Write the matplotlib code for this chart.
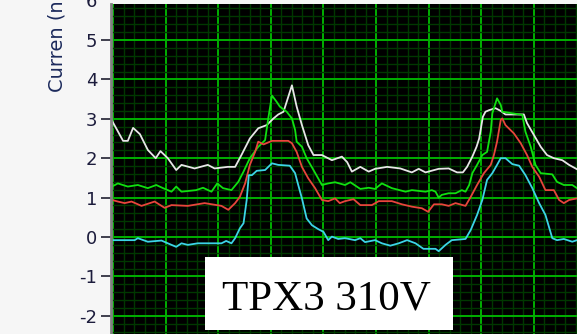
import numpy as np
import matplotlib
matplotlib.use("Agg")
import matplotlib.pyplot as plt
from matplotlib.patches import Rectangle
from matplotlib.ticker import MultipleLocator

# sample positions (time units, 10 per major division) and currents in nA
white_x = [-0.2, 1.9, 2.8, 3.8, 5.1, 6.6, 8.1, 9.0, 10.4, 12.0, 13.0, 15.5, 18.0, 19.3,
           21.8, 23.2, 24.4, 26.0, 27.6, 29.2, 30.5, 31.4, 32.4, 33.0, 34.0, 34.9, 35.9,
           37.1, 38.1, 39.7, 41.6, 43.5, 44.5, 45.4, 47.0, 48.6, 49.8, 52.1, 54.6, 56.8,
           58.1, 59.4, 61.9, 63.8, 65.4, 66.5, 67.3, 68.3, 69.1, 69.6, 70.3, 70.8, 71.5,
           72.7, 73.7, 74.6, 78.1, 78.7, 80.0, 81.3, 82.5, 83.8, 85.4, 86.7, 88.2]
white_y = [2.95, 2.44, 2.44, 2.77, 2.61, 2.21, 2.00, 2.18, 2.00, 1.70, 1.83, 1.74, 1.83, 1.74,
           1.78, 1.78, 2.08, 2.50, 2.76, 2.84, 3.01, 3.11, 3.18, 3.43, 3.85, 3.31, 2.84,
           2.33, 2.08, 2.08, 1.95, 2.04, 1.90, 1.66, 1.78, 1.66, 1.73, 1.78, 1.74, 1.64,
           1.73, 1.64, 1.73, 1.74, 1.64, 1.64, 1.78, 2.04, 2.29, 2.50, 3.05, 3.18, 3.22,
           3.27, 3.20, 3.11, 3.11, 2.89, 2.59, 2.29, 2.08, 2.00, 1.95, 1.83, 1.72]

green_x = [-0.2, 0.9, 2.8, 4.7, 6.6, 8.2, 9.5, 11.1, 12.0, 13.0, 15.8, 17.1, 18.7, 19.8,
           20.9, 22.5, 23.8, 24.8, 26.0, 27.6, 28.9, 29.5, 30.2, 31.1, 31.7, 33.0, 34.0,
           34.6, 34.9, 35.9, 36.8, 38.1, 39.7, 40.9, 42.2, 44.1, 45.1, 47.0, 48.6, 49.8,
           51.1, 53.0, 55.6, 56.8, 59.4, 60.6, 61.3, 61.9, 62.5, 63.8, 65.1, 66.3, 67.0,
           67.7, 68.3, 69.2, 70.2, 71.1, 71.8, 72.1, 73.0, 73.7, 74.0, 77.8, 78.4, 79.4,
           80.3, 81.3, 83.5, 84.4, 85.7, 87.3, 88.2]
green_y = [1.28, 1.36, 1.28, 1.32, 1.24, 1.32, 1.24, 1.15, 1.28, 1.15, 1.19, 1.25, 1.15, 1.36,
           1.24, 1.19, 1.40, 1.66, 2.00, 2.29, 2.46, 3.01, 3.59, 3.43, 3.31, 3.18, 3.01,
           2.72, 2.42, 2.29, 2.00, 1.70, 1.32, 1.36, 1.39, 1.32, 1.39, 1.22, 1.25, 1.22,
           1.36, 1.24, 1.15, 1.19, 1.15, 1.19, 1.15, 1.00, 1.07, 1.11, 1.11, 1.19, 1.15,
           1.32, 1.62, 1.83, 2.08, 2.16, 2.67, 3.14, 3.52, 3.35, 3.18, 3.10, 2.67, 2.29,
           1.83, 1.62, 1.59, 1.40, 1.32, 1.32, 1.24]

red_x = [-0.2, 0.9, 2.2, 3.5, 5.4, 7.9, 9.8, 11.1, 14.2, 17.4, 20.6, 21.9, 23.2, 24.1,
         25.1, 26.0, 27.0, 27.6, 28.6, 30.2, 33.3, 34.0, 34.9, 35.9, 37.1, 38.4, 39.7,
         40.9, 42.2, 43.1, 44.1, 45.7, 47.0, 49.2, 50.5, 53.0, 54.9, 56.8, 58.7, 59.9,
         61.0, 62.5, 63.8, 65.1, 67.0, 68.0, 69.2, 70.5, 71.8, 72.4, 73.0, 73.7, 74.0,
         74.6, 76.2, 77.5, 78.7, 79.7, 81.0, 82.2, 83.8, 84.8, 85.7, 86.7, 88.2]
red_y = [0.94, 0.90, 0.86, 0.90, 0.79, 0.90, 0.74, 0.81, 0.79, 0.86, 0.79, 0.69, 0.86, 1.02,
         1.36, 1.83, 2.16, 2.42, 2.35, 2.44, 2.44, 2.38, 2.16, 1.78, 1.49, 1.24, 0.94,
         0.91, 0.98, 0.86, 0.91, 0.96, 0.81, 0.81, 0.91, 0.91, 0.83, 0.77, 0.73, 0.64,
         0.83, 0.83, 0.79, 0.86, 0.79, 1.02, 1.32, 1.62, 1.83, 2.08, 2.42, 2.97, 3.01,
         2.84, 2.63, 2.38, 2.08, 1.78, 1.53, 1.19, 1.19, 0.94, 0.86, 0.94, 0.98]

cyan_x = [-0.2, 4.1, 4.7, 6.6, 9.2, 10.4, 12.0, 13.0, 14.2, 16.1, 20.6, 21.5, 22.5, 23.2,
          24.1, 24.8, 25.4, 25.8, 26.4, 27.3, 28.9, 30.2, 31.4, 33.6, 34.6, 35.2, 35.9,
          36.8, 37.8, 39.0, 40.0, 40.9, 41.6, 42.8, 44.1, 46.0, 47.0, 47.9, 49.8, 51.1,
          52.7, 54.3, 55.9, 57.5, 59.0, 61.3, 61.9, 63.2, 64.4, 67.0, 68.0, 69.2, 70.2,
          71.1, 72.1, 73.0, 73.7, 74.6, 75.9, 77.2, 78.4, 79.7, 81.0, 82.2, 83.5, 84.4,
          85.7, 87.3, 88.2]
cyan_y = [-0.08, -0.08, -0.03, -0.12, -0.09, -0.16, -0.25, -0.16, -0.20, -0.16, -0.16, -0.10,
          -0.16, -0.03, 0.22, 0.35, 0.94, 1.57, 1.57, 1.68, 1.70, 1.87, 1.83, 1.81, 1.62,
          1.32, 0.98, 0.47, 0.30, 0.20, 0.13, -0.08, 0.01, -0.05, -0.03, -0.08, -0.03,
          -0.13, -0.08, -0.16, -0.22, -0.16, -0.08, -0.16, -0.30, -0.30, -0.36, -0.20,
          -0.08, -0.05, 0.18, 0.56, 0.94, 1.45, 1.62, 1.83, 2.00, 2.00, 1.85, 1.81, 1.57,
          1.24, 0.86, 0.56, -0.03, -0.08, -0.05, -0.12, -0.08]

y_ticks = [-2, -1, 0, 1, 2, 3, 4, 5]

plt.rcParams["axes.unicode_minus"] = False

fig = plt.figure(figsize=(5.77, 3.34), dpi=100)
fig.patch.set_facecolor("#f6f6f6")
ax = fig.add_axes([111 / 577, 0, 466 / 577, 330 / 334])
ax.set_facecolor("black")

ax.set_xlim(-0.4, 88.2)
ax.set_ylim(-2.462, 5.914)

ax.xaxis.set_major_locator(MultipleLocator(10))
ax.xaxis.set_minor_locator(MultipleLocator(2))
ax.set_yticks(y_ticks)
ax.yaxis.set_minor_locator(MultipleLocator(0.2))
ax.grid(which="minor", color="#003800", linewidth=1.0)
ax.grid(which="major", color="#00b000", linewidth=1.4)
ax.set_axisbelow(True)

ax.plot(white_x, white_y, color="#e6e6e6", lw=1.3)
ax.plot(green_x, green_y, color="#10e010", lw=1.3)
ax.plot(red_x, red_y, color="#e8453c", lw=1.3)
ax.plot(cyan_x, cyan_y, color="#3cd4e6", lw=1.3)

ax.tick_params(axis="x", which="both", bottom=False, labelbottom=False)
ax.tick_params(axis="y", which="minor", left=False)
ax.tick_params(axis="y", which="major", length=7, width=1.3, color="#303040",
               labelsize=13, labelcolor="#1c1c3c", pad=3)
for side in ["top", "right", "bottom"]:
    ax.spines[side].set_visible(False)
ax.spines["left"].set_color("#808080")
ax.spines["left"].set_linewidth(2)

# top tick label, only its lower part fits above the plot
ax.text(-0.03, 5.96, "6", transform=ax.get_yaxis_transform(), ha="right", va="center",
        fontsize=13, color="#1c1c3c", clip_on=False)

fig.text(57 / 577, 1 - 92 / 334, "Curren (n", rotation=90, ha="center", va="bottom",
         fontsize=14, color="#1c2a5c")

# white caption box
fig.patches.append(Rectangle((205 / 577, 4 / 334), 248 / 577, 73 / 334,
                             transform=fig.transFigure, facecolor="white",
                             edgecolor="none", zorder=5))
fig.text(326.5 / 577, 1 - 310 / 334, "TPX3 310V", ha="center", va="baseline",
         fontsize=31, family="Liberation Serif", color="black", zorder=6)

fig.savefig("out.png", dpi=100, facecolor=fig.get_facecolor())
